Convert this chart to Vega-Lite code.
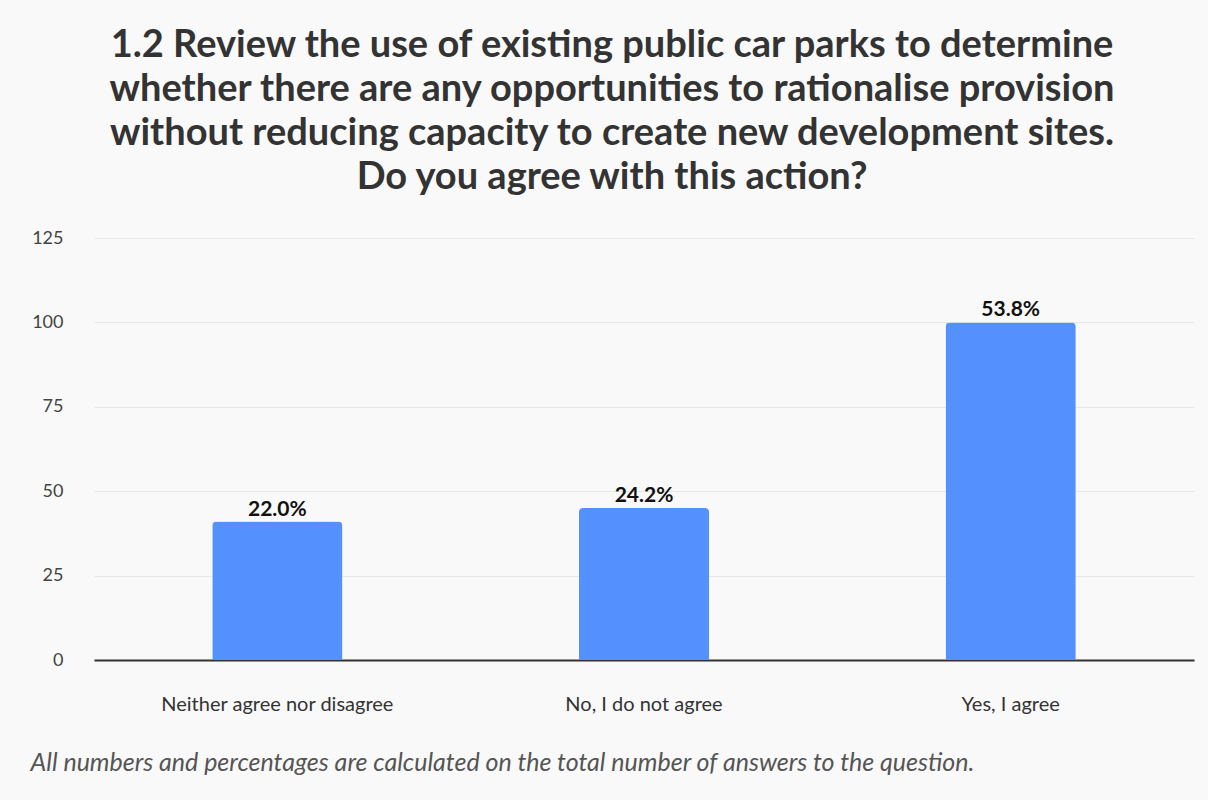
{
  "$schema": "https://vega.github.io/schema/vega-lite/v6.json",
  "width": 1100,
  "height": 422,
  "autosize": {"type": "none"},
  "padding": {"left": 94, "top": 238, "right": 14, "bottom": 140},
  "background": "#f9f9f9",
  "title": {
    "text": ["1.2 Review the use of existing public car parks to determine", "whether there are any opportunities to rationalise provision", "without reducing capacity to create new development sites.", "Do you agree with this action?"],
    "anchor": "middle",
    "frame": "group",
    "dx": -32,
    "offset": 32,
    "font": "Lato",
    "fontSize": 38,
    "fontWeight": "bold",
    "color": "#333333",
    "lineHeight": 44
  },
  "config": {
    "view": {"stroke": null},
    "font": "Lato"
  },
  "data": {
    "values": [
      {"answer": "Neither agree nor disagree", "count": 41, "pct": "22.0%"},
      {"answer": "No, I do not agree", "count": 45, "pct": "24.2%"},
      {"answer": "Yes, I agree", "count": 100, "pct": "53.8%"}
    ]
  },
  "encoding": {
    "x": {
      "field": "answer",
      "type": "nominal",
      "sort": null,
      "scale": {"paddingInner": 0.645, "paddingOuter": 0.3225},
      "axis": {
        "title": "All numbers and percentages are calculated on the total number of answers to the question.",
        "titleFont": "Lato",
        "titleFontStyle": "italic",
        "titleFontWeight": "normal",
        "titleFontSize": 25,
        "titleColor": "#555555",
        "titleAnchor": "start",
        "titleAlign": "left",
        "titleX": -64,
        "titleY": 90,
        "labelAngle": 0,
        "labelFontSize": 20,
        "labelColor": "#333333",
        "labelPadding": 34,
        "labelLimit": 0,
        "ticks": false,
        "domainColor": "#333333",
        "domainWidth": 2
      }
    },
    "y": {
      "field": "count",
      "type": "quantitative",
      "scale": {"domain": [0, 125]},
      "axis": {
        "title": null,
        "values": [0, 25, 50, 75, 100, 125],
        "domain": false,
        "ticks": false,
        "labelFontSize": 18,
        "labelColor": "#444444",
        "labelPadding": 31,
        "gridColor": "#e6e6e6",
        "gridWidth": 1
      }
    }
  },
  "layer": [
    {
      "mark": {"type": "bar", "color": "#5590ff", "cornerRadiusTopLeft": 4, "cornerRadiusTopRight": 4}
    },
    {
      "mark": {"type": "text", "baseline": "bottom", "dy": -2, "fontSize": 21, "fontWeight": "bold", "color": "#111111"},
      "encoding": {"text": {"field": "pct"}}
    }
  ]
}
